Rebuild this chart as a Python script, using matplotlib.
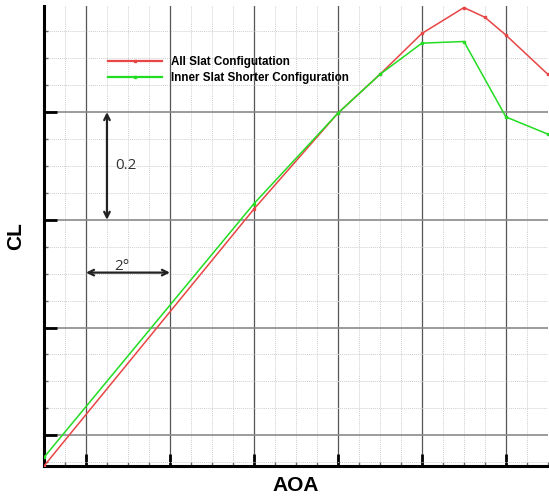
"""CL vs AOA comparison of two slat configurations."""

import matplotlib

matplotlib.use("Agg")
import matplotlib.pyplot as plt
from matplotlib.ticker import MultipleLocator, NullFormatter

# angle of attack (relative units, 1 unit = 1 deg)
aoa = [0, 5, 7, 8, 9, 10, 10.5, 11, 12]
cl_all_slat = [0.143, 0.620, 0.798, 0.870, 0.946, 0.994, 0.976, 0.943, 0.870]
aoa_inner = [0, 5, 7, 8, 9, 10, 11, 12]
cl_inner = [0.159, 0.630, 0.798, 0.870, 0.928, 0.931, 0.791, 0.759]

labels = ["All Slat Configutation", "Inner Slat Shorter Configuration"]

fig = plt.figure(figsize=(5.49, 4.97), dpi=100)
ax = fig.add_axes([0.0801, 0.0624, 0.9179, 0.9256])

ax.plot(aoa, cl_all_slat, color="#e84545", lw=1.1, marker="s", ms=1.6,
        label=labels[0], zorder=4)
ax.plot(aoa_inner, cl_inner, color="#22dd22", lw=1.1, marker="s", ms=1.6,
        label=labels[1], zorder=4)

ax.set_xlim(0, 12)
ax.set_ylim(0.143, 0.997)
ax.xaxis.set_major_locator(MultipleLocator(2, offset=1))
ax.xaxis.set_minor_locator(MultipleLocator(0.5))
ax.yaxis.set_major_locator(MultipleLocator(0.2))
ax.yaxis.set_minor_locator(MultipleLocator(0.05))
ax.xaxis.set_major_formatter(NullFormatter())
ax.yaxis.set_major_formatter(NullFormatter())

ax.grid(which="minor", color="#cfcfcf", ls=(0, (1, 1)), lw=0.7)
ax.grid(which="major", axis="x", color="#555555", ls="-", lw=0.9)
ax.grid(which="major", axis="y", color="#8a8a8a", ls="-", lw=1.2)

for side in ("top", "right"):
    ax.spines[side].set_visible(False)
for side in ("left", "bottom"):
    ax.spines[side].set_linewidth(2.2)
ax.tick_params(which="major", direction="in", length=9, width=2.0)
ax.tick_params(which="minor", direction="in", length=3, width=1, color="#666666")

ax.set_xlabel("AOA", fontsize=15, fontweight="bold", family="Liberation Sans",
              labelpad=4)
ax.set_ylabel("CL", fontsize=15, fontweight="bold", family="Liberation Sans",
              labelpad=10)

leg = ax.legend(loc="upper left", bbox_to_anchor=(0.120, 0.899), frameon=False,
                prop={"family": "Liberation Sans", "weight": "bold", "size": 8.4},
                handlelength=4.6, handletextpad=0.8, labelspacing=0.38,
                borderaxespad=0, borderpad=0.3)
for line in leg.get_lines():
    line.set_linewidth(1.6)

# scale indicators
ax.annotate("", xy=(1.5, 0.6), xytext=(1.5, 0.8),
            arrowprops=dict(arrowstyle="<->", color="#222222", lw=1.6,
                            shrinkA=0, shrinkB=0))
ax.text(1.7, 0.7, "0.2", fontsize=11, family="Open Sans", color="#333333",
        va="center", ha="left")
ax.annotate("", xy=(1, 0.502), xytext=(3, 0.502),
            arrowprops=dict(arrowstyle="<->", color="#222222", lw=1.6,
                            shrinkA=0, shrinkB=0))
ax.text(1.85, 0.499, "2°", fontsize=11, family="Open Sans", color="#333333",
        va="bottom", ha="center")

fig.savefig("out.png", dpi=100)
